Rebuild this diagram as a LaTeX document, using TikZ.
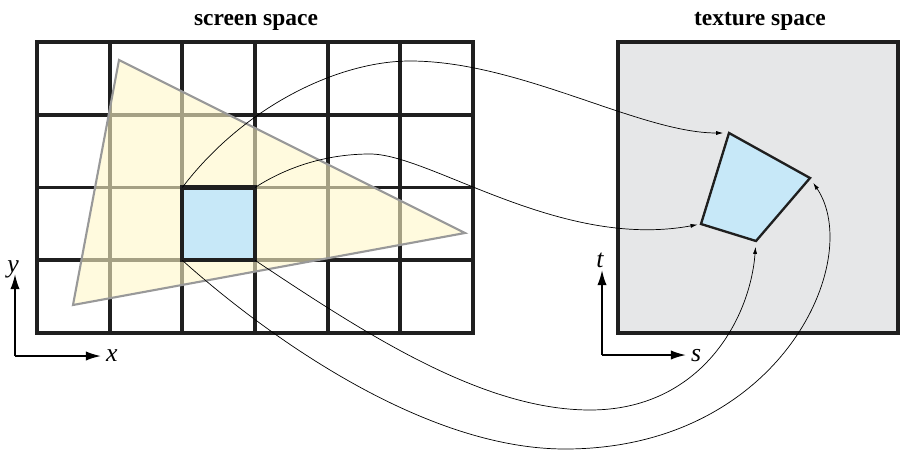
\documentclass[tikz,border=0pt]{standalone}
\usepackage{fontspec}
\setmainfont{Liberation Serif}
\usetikzlibrary{arrows.meta}
\definecolor{cellblue}{HTML}{C7E8F8}
\definecolor{triyellow}{HTML}{FFF7C8}
\definecolor{texgray}{HTML}{E6E7E8}
\definecolor{triedge}{HTML}{999999}

\begin{document}
\begin{tikzpicture}[x=0.03cm,y=-0.03cm,>=Latex]
\tikzstyle{gridln}=[line width=3.2pt,black!88]
\tikzstyle{map}=[-{Latex[length=6pt,width=3.5pt]},line width=0.6pt]
\tikzstyle{axis}=[-{Latex[length=13pt,width=8pt]},line width=1.5pt]
\tikzstyle{title}=[font=\fontsize{20}{24}\selectfont\bfseries,anchor=base,inner sep=0pt]
\tikzstyle{lbl}=[font=\fontsize{22}{26}\selectfont\itshape,inner sep=0pt]
\useasboundingbox (0,0) rectangle (901,449);
% titles
\node[title] (scrtitle) at (256,25) {screen space};
\node[title] (textitle) at (760,25) {texture space};
% screen grid
\foreach \c in {1,...,5} \draw[gridln] ({37+72.67*\c},42) -- ({37+72.67*\c},333);
\foreach \r in {1,...,3} \draw[gridln] (37,{42+72.75*\r}) -- (473,{42+72.75*\r});
\draw[gridln] (37,42) rectangle (473,333);
% triangle
\coordinate (ta) at (119,60);
\coordinate (tb) at (73,305);
\coordinate (tc) at (465,233);
\draw[triedge,line width=1.8pt,fill=triyellow,fill opacity=0.6] (ta) -- (tb) -- (tc) -- cycle;
% pixel
\coordinate (sqtl) at (182.3,187.5);
\coordinate (sqtr) at (255,187.5);
\coordinate (sqbl) at (182.3,260.3);
\coordinate (sqbr) at (255,260.3);
\draw[line width=3.6pt,black!88,fill=cellblue] (sqtl) rectangle (sqbr);
% texture
\draw[gridln,fill=texgray] (618,42) rectangle (898,333);
\coordinate (qtop) at (729,133);
\coordinate (qright) at (810,178);
\coordinate (qbot) at (756,241);
\coordinate (qleft) at (701,224);
\draw[line width=2pt,black!88,fill=cellblue,line join=miter] (qtop) -- (qright) -- (qbot) -- (qleft) -- cycle;
% mapping curves
\draw[map,shorten >=5pt] (sqtl) .. controls (245,105) and (340,61) .. (410,61)
  .. controls (520,61) and (640,133) .. (qtop);
\draw[map,shorten >=3pt] (sqtr) .. controls (290,165) and (330,154) .. (370,154)
  .. controls (430,154) and (560,250) .. (qleft);
\draw[map,shorten >=5pt] (sqbl) .. controls (260,330) and (420,449) .. (565,449)
  .. controls (780,449) and (865,260) .. (qright);
\draw[map,shorten >=5pt] (sqbr) .. controls (360,330) and (480,410) .. (590,410)
  .. controls (700,410) and (750,320) .. (qbot);
% axes
\coordinate (so) at (15,356);
\coordinate (sy) at (15,274);
\coordinate (sx) at (101,356);
\draw[axis] (so) -- (sy);
\draw[axis] (so) -- (sx);
\node[lbl,anchor=base] (ylbl) at (13,272) {y};
\node[lbl,anchor=base west] (xlbl) at (106,361) {x};
\coordinate (to) at (602,355);
\coordinate (ty) at (602,270);
\coordinate (tx) at (686,355);
\draw[axis] (to) -- (ty);
\draw[axis] (to) -- (tx);
\node[lbl,anchor=base] (tlbl) at (600,267) {t};
\node[lbl,anchor=base west] (slbl) at (691,361) {s};
\end{tikzpicture}
\end{document}
